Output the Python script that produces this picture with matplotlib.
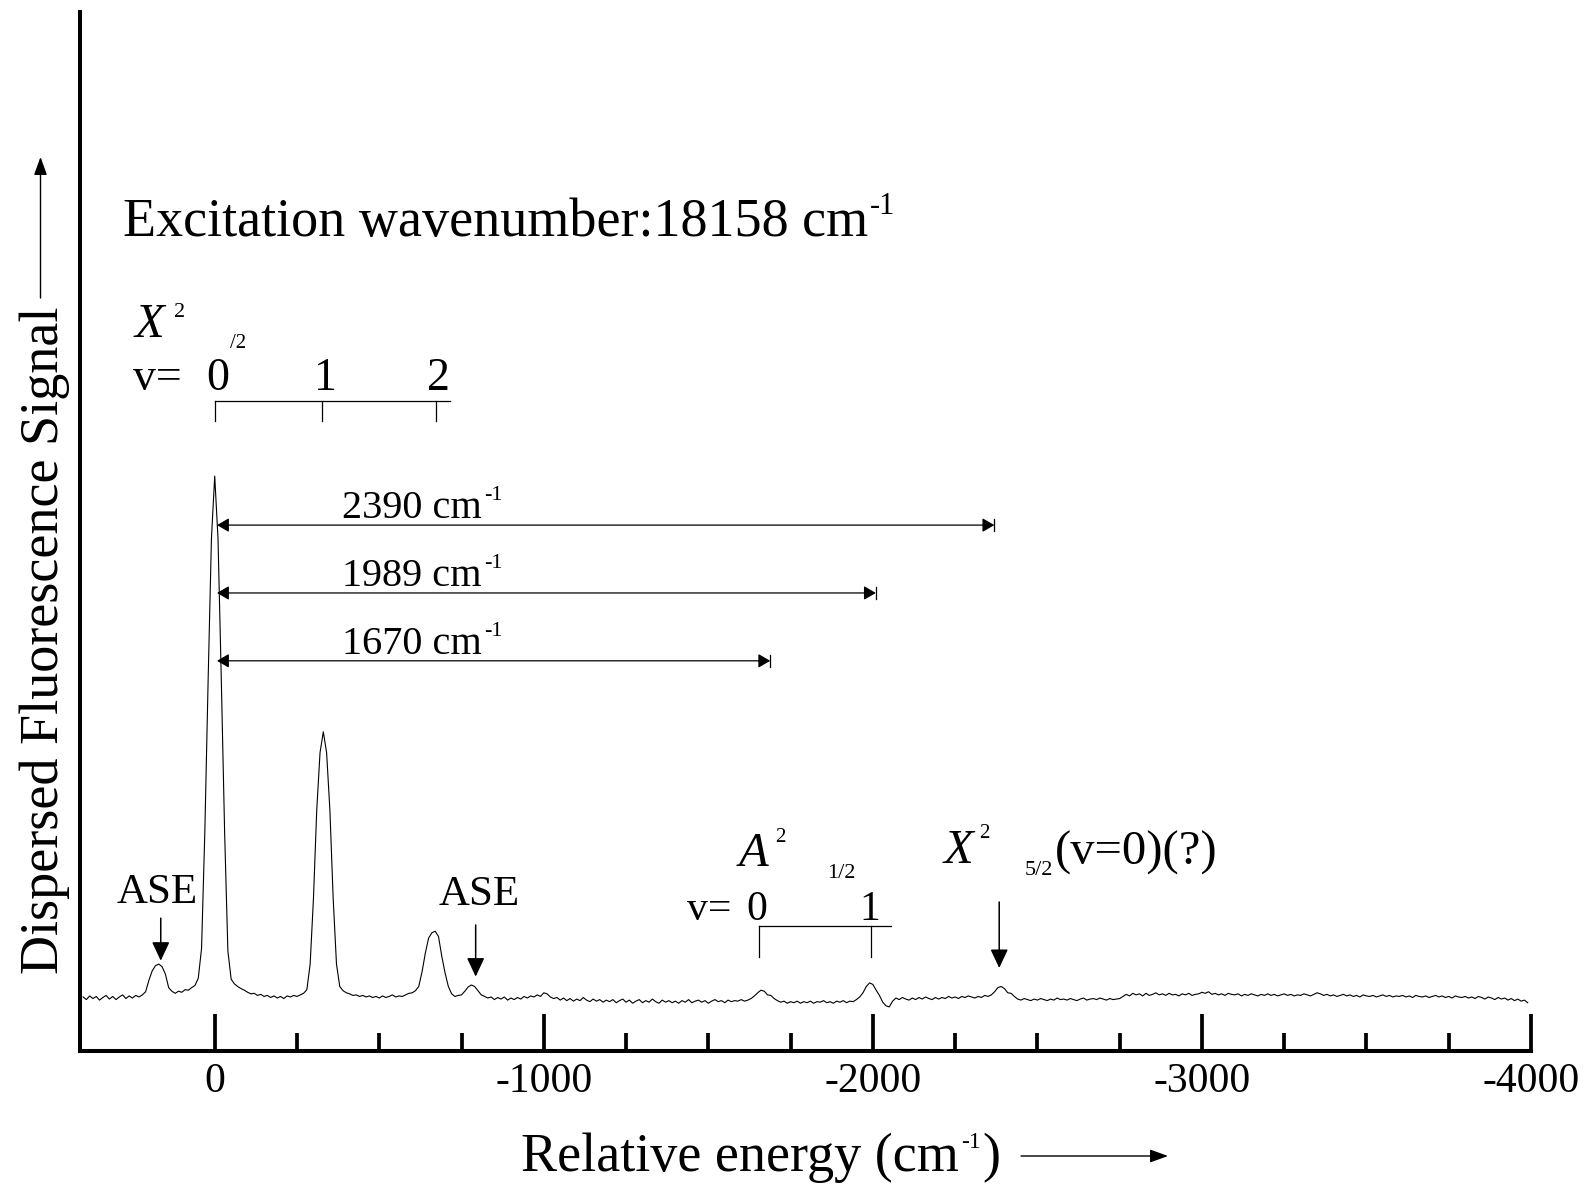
import numpy as np
import matplotlib
matplotlib.use("Agg")
import matplotlib.pyplot as plt

plt.rcParams["font.family"] = ["Liberation Serif", "DejaVu Serif"]
plt.rcParams["axes.unicode_minus"] = False

# ---------------- data ----------------
# relative energy sampling grid (cm^-1), 10 cm^-1 steps from +400 to -3990
energy = np.arange(400, -4000, -10)

sig_p400_p210 = [0.2, -0.3, 0.4, -0.1, 0.3, -0.4, 0.1, 0.5, -0.2, 0.3, -0.3, 0.2, 0.6, -0.1, 0.4, 0.0, 0.5, 0.2, 0.6, 1.2]
sig_p200_p10 = [3.4, 5.2, 6.2, 6.5, 6.0, 4.6, 2.0, 1.3, 0.9, 1.3, 1.1, 1.6, 1.5, 2.0, 2.4, 3.8, 9.5, 32, 61, 88]
sig_0_m190 = [100, 88, 61, 32, 9.0, 3.6, 2.7, 2.2, 1.8, 1.5, 1.1, 0.8, 0.9, 0.5, 0.7, 0.3, 0.5, 0.1, 0.4, 0.0]
sig_m200_m390 = [0.3, -0.1, 0.4, 0.2, 0.5, 0.3, 0.6, 0.9, 1.6, 6.5, 19, 36, 47, 51, 47, 36, 19, 6.5, 2.2, 1.4]
sig_m400_m590 = [1.0, 0.8, 0.5, 0.6, 0.3, 0.5, 0.2, 0.4, 0.1, 0.3, 0.0, 0.4, 0.1, 0.3, 0.6, 0.2, 0.4, 0.3, 0.6, 0.9]
sig_m600_m790 = [1.0, 1.4, 2.2, 5.0, 8.6, 11.5, 12.5, 12.8, 11.8, 8.0, 4.8, 2.2, 0.8, 0.3, 0.5, 0.6, 1.3, 2.1, 2.5, 2.2]
sig_m800_m990 = [1.4, 0.6, 0.3, 0.0, 0.2, -0.3, 0.1, -0.2, 0.2, -0.4, 0.0, -0.3, 0.1, -0.2, 0.3, 0.0, 0.4, 0.2, 0.6, 0.3]
sig_m1000_m1190 = [1.0, 0.8, 0.2, -0.1, 0.1, -0.4, 0.0, -0.5, -0.1, -0.6, -0.2, -0.5, 0.1, -0.4, -0.7, -0.2, -0.6, -0.3, -0.8, -0.4]
sig_m1200_m1390 = [-0.7, -0.3, -0.9, -0.5, -0.2, -0.8, -0.4, -1.0, -0.6, -0.3, -0.9, -0.5, -0.8, -0.2, -0.7, -1.0, -0.4, -0.8, -0.5, -0.9]
sig_m1400_m1590 = [-0.6, -1.0, -0.5, -0.8, -0.3, -0.9, -0.6, -0.4, -0.8, -0.5, -1.0, -0.6, -0.3, -0.7, -0.5, -0.9, -0.4, -0.7, -0.5, -0.6]
sig_m1600_m1790 = [-0.3, -0.6, -0.4, -0.1, 0.4, 1.0, 1.5, 1.3, 0.6, 0.5, -0.1, -0.5, -0.8, -0.6, -1.0, -0.7, -0.9, -0.6, -1.0, -0.7]
sig_m1800_m1990 = [-0.9, -0.6, -1.0, -0.7, -0.8, -0.5, -0.9, -0.7, -1.0, -0.6, -0.8, -0.5, -0.9, -0.6, -0.7, -0.3, 0.2, 1.0, 2.2, 2.9]
sig_m2000_m2190 = [2.6, 1.5, 0.5, -0.8, -1.5, -1.7, -0.6, 0.0, -0.3, 0.1, -0.2, -0.4, 0.0, -0.3, 0.1, -0.2, 0.2, -0.1, -0.3, 0.1]
sig_m2200_m2390 = [-0.2, 0.1, -0.1, 0.3, 0.0, 0.2, -0.1, 0.3, 0.1, 0.4, 0.2, 0.0, 0.3, 0.1, 0.5, 0.3, 0.6, 1.2, 2.0, 2.2]
sig_m2400_m2590 = [1.8, 1.0, 0.9, 0.3, -0.2, -0.4, -0.1, -0.3, -0.5, -0.2, -0.4, -0.1, -0.3, -0.5, -0.2, -0.4, 0.0, -0.3, -0.2, -0.4]
sig_m2600_m2790 = [-0.1, -0.3, -0.5, -0.2, 0.0, -0.4, -0.2, -0.1, -0.3, 0.0, -0.2, -0.4, -0.1, -0.3, -0.2, -0.1, 0.3, 0.7, 0.4, 0.9]
sig_m2800_m2990 = [0.6, 0.8, 0.4, 0.9, 0.5, 0.7, 1.0, 0.6, 0.8, 0.5, 0.9, 0.6, 0.7, 0.4, 0.8, 0.6, 0.9, 0.5, 0.7, 0.8]
sig_m3000_m3190 = [1.1, 0.9, 1.2, 0.7, 0.9, 0.6, 0.8, 0.5, 0.9, 0.7, 0.6, 0.8, 0.4, 0.7, 0.5, 0.8, 0.6, 0.4, 0.7, 0.5]
sig_m3200_m3390 = [0.8, 0.5, 0.7, 0.4, 0.6, 0.8, 0.5, 0.7, 0.4, 0.6, 0.5, 0.8, 0.6, 0.4, 0.7, 1.0, 0.8, 0.5, 0.7, 0.4]
sig_m3400_m3590 = [0.6, 0.3, 0.5, 0.7, 0.4, 0.6, 0.3, 0.5, 0.2, 0.6, 0.4, 0.3, 0.5, 0.2, 0.4, 0.6, 0.3, 0.5, 0.2, 0.4]
sig_m3600_m3790 = [0.3, 0.5, 0.2, 0.4, 0.1, 0.5, 0.3, 0.2, 0.4, 0.1, 0.3, 0.5, 0.2, 0.4, 0.1, 0.3, 0.0, 0.4, 0.2, 0.1]
sig_m3800_m3990 = [0.3, 0.0, 0.2, -0.1, 0.3, 0.1, -0.2, 0.2, 0.0, -0.3, 0.1, -0.2, 0.0, -0.4, -0.1, -0.5, -0.2, -0.6, -0.4, -0.9]

signal = np.array(
    sig_p400_p210 + sig_p200_p10 + sig_0_m190 + sig_m200_m390 + sig_m400_m590
    + sig_m600_m790 + sig_m800_m990 + sig_m1000_m1190 + sig_m1200_m1390
    + sig_m1400_m1590 + sig_m1600_m1790 + sig_m1800_m1990 + sig_m2000_m2190
    + sig_m2200_m2390 + sig_m2400_m2590 + sig_m2600_m2790 + sig_m2800_m2990
    + sig_m3000_m3190 + sig_m3200_m3390 + sig_m3400_m3590 + sig_m3600_m3790
    + sig_m3800_m3990
)

major_ticks = [0, -1000, -2000, -3000, -4000]
major_labels = ["0", "-1000", "-2000", "-3000", "-4000"]
minor_ticks = [-250, -500, -750, -1250, -1500, -1750, -2250, -2500, -2750,
               -3250, -3500, -3750]

# X state progression (v = 0, 1, 2) and A state progression (v = 0, 1)
x_state_levels = [0, -327, -672]
x_state_labels = ["0", "1", "2"]
a_state_levels = [-1653, -1995]
a_state_labels = ["0", "1"]

# energy-difference arrows
interval_labels = ["2390", "1989", "1670"]
interval_ends = [-2369, -2009, -1688]
interval_heights = [90.6, 77.6, 64.6]

ase_positions = [164, -793]
x52_position = -2384

# ---------------- figure ----------------
W, H = 1585, 1185
fig = plt.figure(figsize=(W / 100, H / 100), dpi=100)
L, R, T, B = 80, 1531, 12, 1051
ax = fig.add_axes([L / W, 1 - B / H, (R - L) / W, (B - T) / H])

ax.plot(energy, signal, color="black", lw=0.8)
ax.set_xlim(409.4, -4000)
ax.set_ylim(-10.15, 188.9)

for s in ["top", "right"]:
    ax.spines[s].set_visible(False)
for s in ["left", "bottom"]:
    ax.spines[s].set_linewidth(2.9)
ax.set_yticks([])
ax.set_xticks(major_ticks, labels=major_labels)
ax.set_xticks(minor_ticks, minor=True)
ax.tick_params(axis="x", which="major", direction="in", length=26.6, width=2.7,
               pad=8, labelsize=30)
ax.tick_params(axis="x", which="minor", direction="in", length=13, width=2.7)


def txt(x, y, s, size, ha="left", va="baseline", **kw):
    return ax.text(x, y, s, fontsize=size, ha=ha, va=va, color="black", **kw)


def sup(base, s, size, dx, dy):
    return ax.annotate(s, xy=(1, 1), xycoords=base, xytext=(dx, dy),
                       textcoords="offset pixels", fontsize=size,
                       ha="left", va="top", color="black")


# title
t = txt(278.7, 146.0, "Excitation wavenumber:18158 cm", 39)
sup(t, "-1", 22, 2, 5)

# X state label + progression bracket
txt(242, 126.6, "X", 35, style="italic")
txt(125, 130.5, "2", 16)
txt(-46.5, 124.5, "/2", 15)
txt(248.3, 116.5, "v=", 33)
for lv, lb in zip(x_state_levels, x_state_labels):
    txt(lv - 8, 116.5, lb, 33, ha="center")
ax.plot([x_state_levels[0], -715], [114.4, 114.4], color="black", lw=0.9)
for lv in x_state_levels:
    ax.plot([lv, lv], [114.4, 110.6], color="black", lw=0.9)

# energy-difference arrows
for lab, xe, yh in zip(interval_labels, interval_ends, interval_heights):
    ax.annotate("", xy=(xe, yh), xytext=(-7, yh),
                arrowprops=dict(arrowstyle="<|-|>,head_length=0.72,head_width=0.42",
                                color="black", lw=0.9, shrinkA=0, shrinkB=0,
                                mutation_scale=10))
    ax.plot([xe, xe], [yh - 1.15, yh + 1.15], color="black", lw=0.9)
    tt = txt(-387.5, yh + 1.3, lab + " cm", 29)
    sup(tt, "-1", 16, 2, 4)

# ASE labels and arrows
ase_text_x = [176, -803]
ase_text_y = [18.2, 17.8]
ase_tail = [15.3, 14.0]
ase_tip = [7.15, 4.1]
for xa, xt, yt, y0, y1 in zip(ase_positions, ase_text_x, ase_text_y, ase_tail, ase_tip):
    txt(xt, yt, "ASE", 31, ha="center")
    ax.annotate("", xy=(xa, y1), xytext=(xa, y0),
                arrowprops=dict(arrowstyle="-|>,head_length=1.15,head_width=0.54",
                                color="black", lw=1.1, shrinkA=0, shrinkB=0,
                                mutation_scale=10))

# A state label + bracket
txt(-1592, 25.2, "A", 35, style="italic")
txt(-1703, 29.9, "2", 15)
txt(-1861, 23.0, "1/2", 16)
txt(-1436, 14.9, "v=", 30)
for lv, lb, cx in zip(a_state_levels, a_state_labels, [-1647, -1992]):
    txt(cx, 14.9, lb, 30, ha="center")
ax.plot([a_state_levels[0], -2055], [13.85, 13.85], color="black", lw=0.9)
for lv in a_state_levels:
    ax.plot([lv, lv], [13.85, 7.85], color="black", lw=0.9)

# X 2Delta 5/2 label + arrow
txt(-2215, 25.8, "X", 35, style="italic")
txt(-2323, 30.65, "2", 15)
txt(-2460, 23.56, "5/2", 16)
txt(-2554, 25.5, "(v=0)(?)", 35)
ax.annotate("", xy=(x52_position, 5.75), xytext=(x52_position, 18.4),
            arrowprops=dict(arrowstyle="-|>,head_length=1.15,head_width=0.54",
                            color="black", lw=1.1, shrinkA=0, shrinkB=0,
                            mutation_scale=10))

# axis labels
ax.set_xlabel("Relative energy (cm", fontsize=39)
ax.xaxis.set_label_coords((740 - L) / (R - L), -(1171 - B) / (B - T))
xl = ax.xaxis.label
xl.set_verticalalignment("baseline")
xl.set_horizontalalignment("center")
xs = sup(xl, "-1", 17, 2, 0)
ax.annotate(")", xy=(1, 0), xycoords=(xs, xl), xytext=(2, 0),
            textcoords="offset pixels", fontsize=39, ha="left", va="bottom")

ax.set_ylabel("Dispersed Fluorescence Signal", fontsize=39)
ax.yaxis.set_label_coords((45 - L) / (R - L), (B - 640) / (B - T))
ax.yaxis.label.set_verticalalignment("center")

# axis direction arrows
ax.annotate("", xy=(1168, H - 1156), xytext=(1021, H - 1156),
            xycoords="figure pixels", textcoords="figure pixels",
            arrowprops=dict(arrowstyle="-|>,head_length=1.1,head_width=0.4",
                            color="black", lw=1.0, shrinkA=0, shrinkB=0,
                            mutation_scale=10))
ax.annotate("", xy=(40.5, H - 157), xytext=(40.5, H - 298),
            xycoords="figure pixels", textcoords="figure pixels",
            arrowprops=dict(arrowstyle="-|>,head_length=1.1,head_width=0.4",
                            color="black", lw=1.0, shrinkA=0, shrinkB=0,
                            mutation_scale=10))

fig.savefig("out.png", dpi=100)
